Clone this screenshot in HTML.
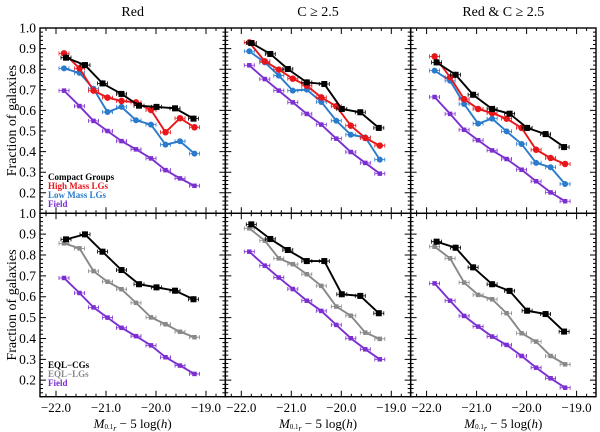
<!DOCTYPE html>
<html><head><meta charset="utf-8"><style>
html,body{margin:0;padding:0;background:#fff;}
svg{display:block;font-family:"Liberation Serif",serif;}
</style></head><body>
<svg id="chart" width="600" height="432" viewBox="0 0 600 432" xmlns="http://www.w3.org/2000/svg"></svg>
<script>
// ---- data ----
const cgX = [-21.8,-21.42,-21.07,-20.69,-20.34,-19.99,-19.62,-19.25];
const lgX = [-21.84,-21.53,-21.25,-20.97,-20.69,-20.4,-20.1,-19.81,-19.52,-19.23];
const panelTitles = ["Red","C \u2265 2.5","Red & C \u2265 2.5"];
const xTickLabels = ["\u221222.0","\u221221.0","\u221220.0","\u221219.0"];
const xTickValues = [-22,-21,-20,-19];
const yTickValues = [1.0,0.9,0.8,0.7,0.6,0.5,0.4,0.3,0.2];
// top row
const topCG   = [[0.856,0.820,0.731,0.680,0.623,0.617,0.610,0.560],[0.927,0.874,0.801,0.736,0.728,0.607,0.591,0.515],[0.833,0.773,0.676,0.607,0.584,0.515,0.485,0.422]];
const topHigh = [[0.877,0.804,0.696,0.662,0.646,0.639,0.602,0.494,0.562,0.518],[0.930,0.838,0.798,0.754,0.720,0.663,0.620,0.526,0.466,0.429],[0.862,0.761,0.655,0.607,0.587,0.560,0.515,0.409,0.369,0.340]];
const topLow  = [[0.804,0.782,0.705,0.592,0.617,0.552,0.531,0.434,0.450,0.390],[0.887,0.833,0.769,0.696,0.701,0.641,0.550,0.482,0.469,0.361],[0.793,0.744,0.631,0.536,0.560,0.498,0.437,0.345,0.324,0.243]];
const topField= [[0.696,0.621,0.549,0.500,0.451,0.411,0.367,0.310,0.270,0.234],[0.819,0.752,0.696,0.639,0.583,0.531,0.463,0.398,0.345,0.293],[0.665,0.583,0.506,0.455,0.406,0.364,0.312,0.256,0.202,0.159]];
// bottom row
const botCG   = [[0.875,0.899,0.816,0.728,0.660,0.645,0.629,0.588],[0.947,0.877,0.824,0.771,0.771,0.612,0.604,0.521],[0.864,0.835,0.741,0.660,0.628,0.533,0.517,0.433]];
const botLG   = [[0.856,0.832,0.723,0.672,0.636,0.571,0.501,0.468,0.432,0.406],[0.928,0.869,0.784,0.756,0.708,0.652,0.553,0.509,0.428,0.398],[0.840,0.784,0.668,0.609,0.588,0.521,0.425,0.385,0.316,0.276]];
const botField= [[0.690,0.618,0.549,0.500,0.451,0.411,0.367,0.310,0.270,0.230],[0.816,0.749,0.692,0.637,0.581,0.532,0.465,0.401,0.348,0.300],[0.664,0.581,0.508,0.457,0.409,0.369,0.316,0.260,0.209,0.164]];

const NS="http://www.w3.org/2000/svg";
const svg=document.getElementById('chart');
function mk(tag,attrs,parent){const e=document.createElementNS(NS,tag);for(const k in attrs)e.setAttribute(k,attrs[k]);(parent||svg).appendChild(e);return e;}
const lefts=[40,225.3,410.6], W=185.4;
const rows=[{top:28,bottom:213.3,y1:28,scale:206},{top:213.3,bottom:396.7,y1:213.3,scale:208.6}];
function xs(p,v){return lefts[p]+(v+22.32)*50;}
function ys(r,v){return rows[r].y1+(1-v)*rows[r].scale;}

for(let r=0;r<2;r++){for(let p=0;p<3;p++){
  const L=lefts[p],R=L+W,T=rows[r].top,B=rows[r].bottom;
  const g=mk('g',{});
  
  
  const fr=mk('rect',{x:L,y:T,width:W,height:B-T,fill:'none',stroke:'#000','stroke-width':1.4},g);
  
  
  let d='';
  for(let i=0;i<=18;i++){const v=-22.2+i*0.2;const x=xs(p,v);if(x<L||x>R)continue;
    const maj=Math.abs(v-Math.round(v))<0.01;const len=maj?6:3;
    d+=`M${x},${B}v${-len}M${x},${T}v${len}`;}
  for(let i=0;i<=45;i++){const v=0.1+i*0.02;const y=ys(r,v);if(y<T-0.5||y>B+0.5)continue;
    const maj=Math.abs(v*10-Math.round(v*10))<0.01;const len=maj?6:3;
    d+=`M${L},${y}h${len}M${R},${y}h${-len}`;}
  const tk=mk('path',{d:d,stroke:'#000','stroke-width':1,fill:'none'},g);
  
  
}}
panelTitles.forEach((t,p)=>{const e=mk('text',{x:lefts[p]+W/2,y:16,'text-anchor':'middle','font-size':14});e.textContent=t;
  
  });
for(let r=0;r<2;r++){yTickValues.forEach(v=>{
  const e=mk('text',{x:36,y:ys(r,v)+4.5,'text-anchor':'end','font-size':13.5});e.textContent=v.toFixed(1);
  
  });
  const c=(rows[r].top+rows[r].bottom)/2;
  const yt=mk('text',{x:0,y:0,transform:`translate(16,${c}) rotate(-90)`,'text-anchor':'middle','font-size':14});yt.textContent='Fraction of galaxies';
  
  }
for(let p=0;p<3;p++){xTickValues.forEach((v,i)=>{
  const e=mk('text',{x:xs(p,v),y:412,'text-anchor':'middle','font-size':13});e.textContent=xTickLabels[i];
  
  });
  const xt=mk('text',{x:lefts[p]+W/2,y:428,'text-anchor':'middle','font-size':13});
  xt.innerHTML='<tspan font-style="italic">M</tspan><tspan font-size="7" dy="1">0.1</tspan><tspan font-size="8" font-style="italic" dy="2">r</tspan><tspan dy="-3"> \u2212 5 log(</tspan><tspan font-style="italic">h</tspan><tspan>)</tspan>';
  
  }

function series(r,p,xa,va,color,shape,size,name,err){
  const g=mk('g',{});
  
  
  const pts=va.map((v,i)=>[xs(p,xa[i]),ys(r,v)]);
  mk('polyline',{points:pts.map(q=>q.join(',')).join(' '),fill:'none',stroke:color,'stroke-width':1.9},g);
  pts.forEach(([x,y])=>{
    mk('path',{d:`M${x-5},${y}h10M${x-5},${y-2}v4M${x+5},${y-2}v4M${x},${y-err}v${2*err}`,stroke:color,'stroke-width':0.8,fill:'none'},g);
    let m;
    if(shape==='c')m=mk('circle',{cx:x,cy:y,r:size/2,fill:color},g);
    else m=mk('rect',{x:x-size/2,y:y-size/2,width:size,height:size,fill:color},g);
    
    
  });
}
for(let p=0;p<3;p++){
  series(0,p,lgX,topField[p],'#7b2fd0','s',4.5,'field-series',1.5);
  series(0,p,lgX,topLow[p],'#2a7bcc','c',6,'low-mass-lgs-series',2.5);
  series(0,p,lgX,topHigh[p],'#e8161a','c',6.5,'high-mass-lgs-series',3);
  series(0,p,cgX,topCG[p],'#000','s',6,'compact-groups-series',3);
  series(1,p,lgX,botField[p],'#7b2fd0','s',4.5,'field-series',1.5);
  series(1,p,lgX,botLG[p],'#888','s',4.5,'eql-lgs-series',1.5);
  series(1,p,cgX,botCG[p],'#000','s',6,'eql-cgs-series',3);
}
function legend(items,y0){items.forEach((it,i)=>{
  const e=mk('text',{x:48,y:y0+i*9,'font-size':9,'font-weight':'bold',fill:it[1]});e.textContent=it[0];
  
  });}
legend([['Compact Groups','#000'],['High Mass LGs','#e8161a'],['Low Mass LGs','#2a7bcc'],['Field','#7b2fd0']],180);
legend([['EQL\u2212CGs','#000'],['EQL\u2212LGs','#888'],['Field','#7b2fd0']],368);
</script>
</body></html>
